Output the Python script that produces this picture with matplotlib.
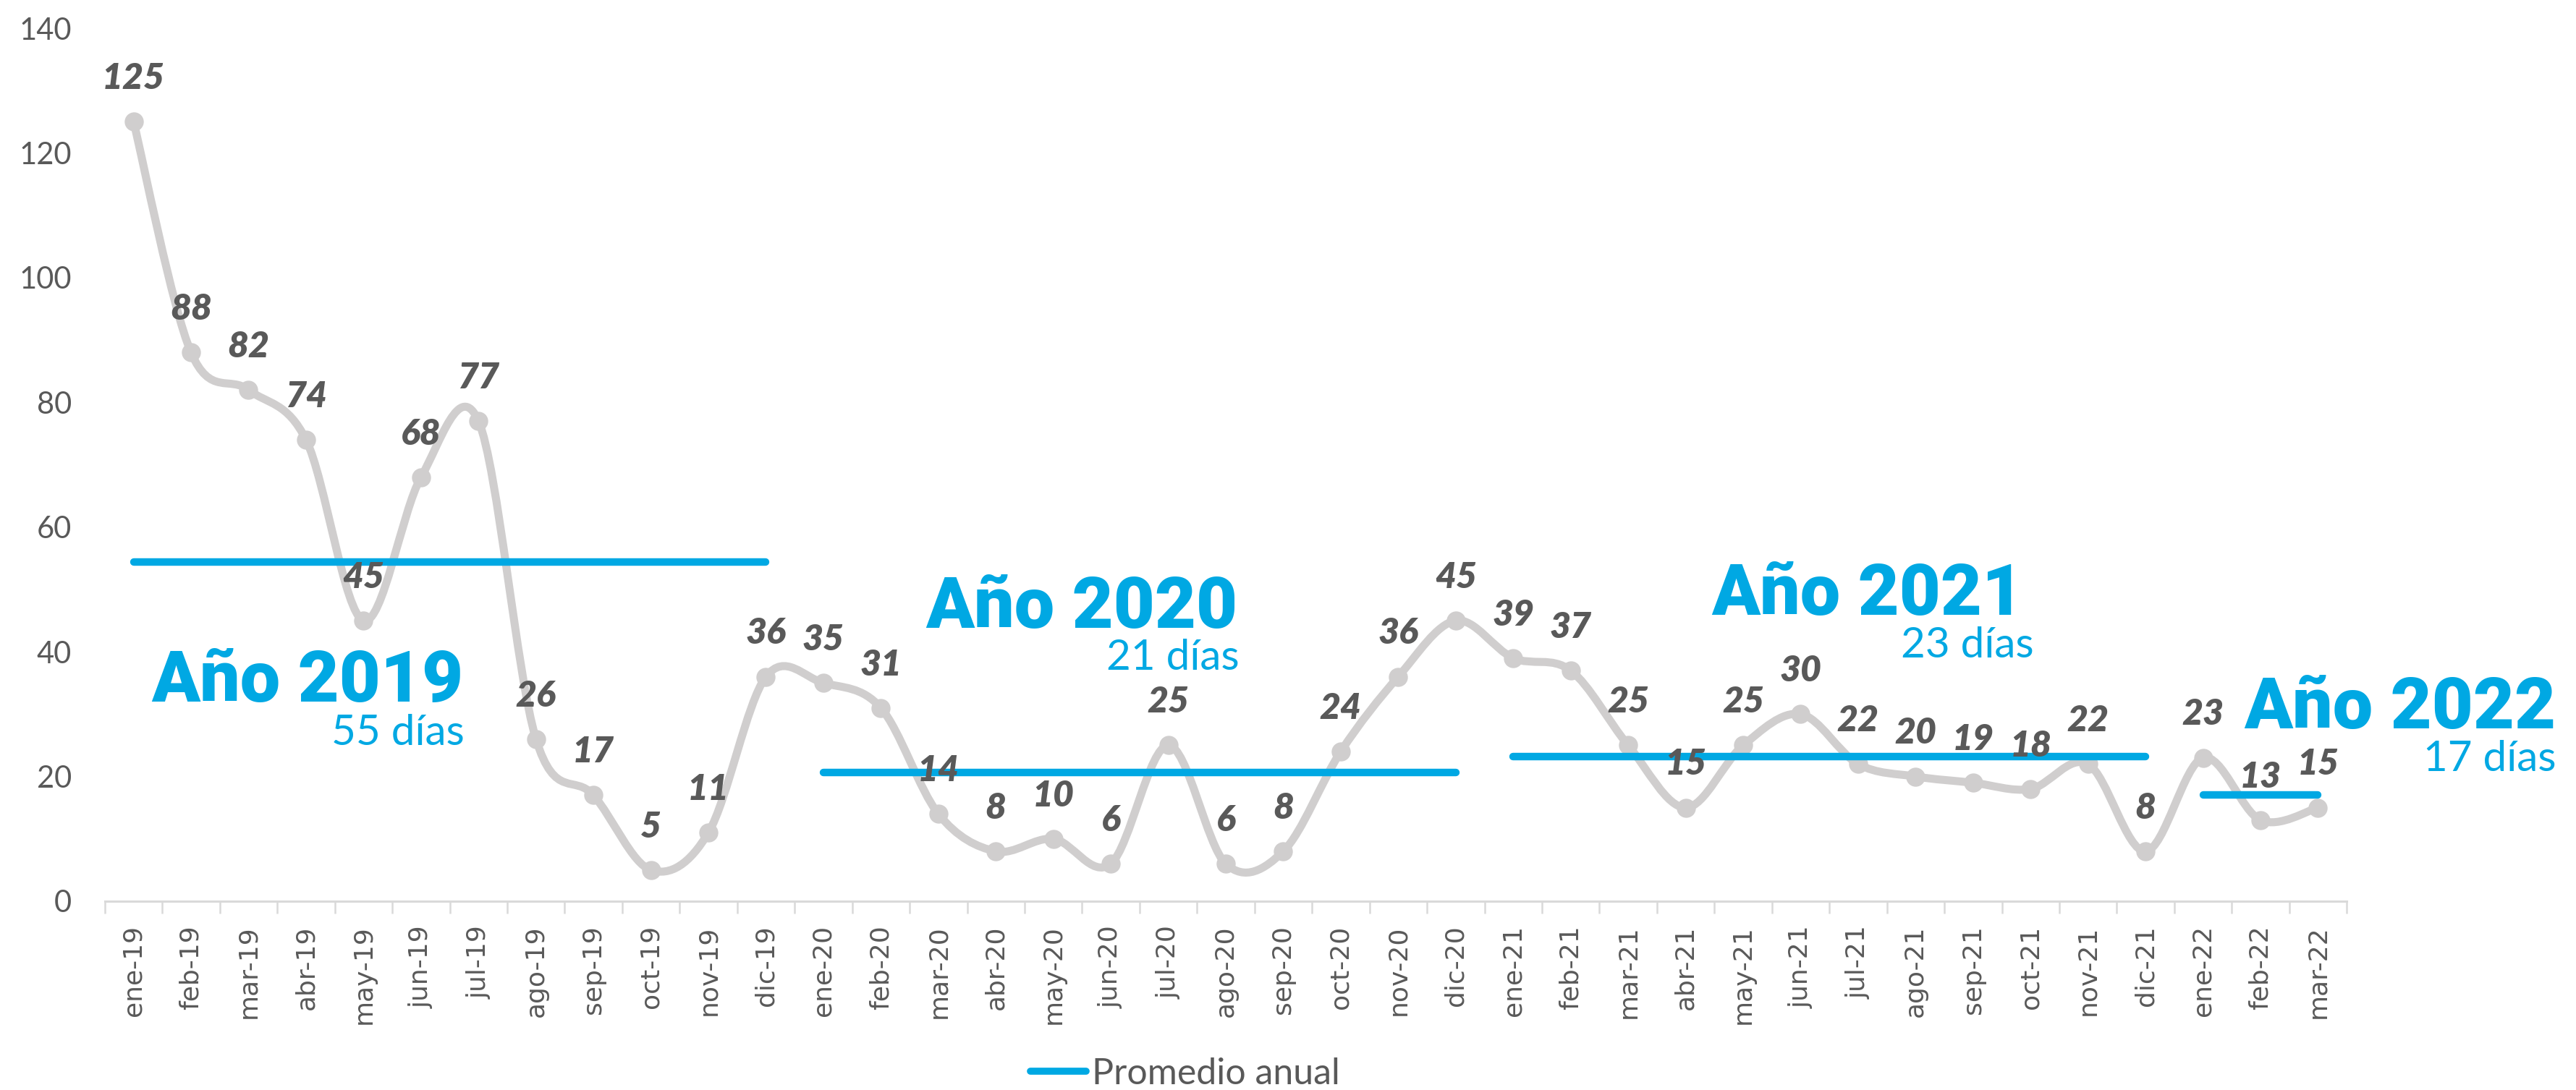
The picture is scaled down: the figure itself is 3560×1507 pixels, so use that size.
import numpy as np
import matplotlib
matplotlib.use("Agg")
import matplotlib.pyplot as plt
from matplotlib.path import Path
from matplotlib.patches import PathPatch
from matplotlib.lines import Line2D

# ---------------- data ----------------
months = ["ene-19", "feb-19", "mar-19", "abr-19", "may-19", "jun-19", "jul-19", "ago-19",
          "sep-19", "oct-19", "nov-19", "dic-19",
          "ene-20", "feb-20", "mar-20", "abr-20", "may-20", "jun-20", "jul-20", "ago-20",
          "sep-20", "oct-20", "nov-20", "dic-20",
          "ene-21", "feb-21", "mar-21", "abr-21", "may-21", "jun-21", "jul-21", "ago-21",
          "sep-21", "oct-21", "nov-21", "dic-21",
          "ene-22", "feb-22", "mar-22"]
values = [125, 88, 82, 74, 45, 68, 77, 26, 17, 5, 11, 36,
          35, 31, 14, 8, 10, 6, 25, 6, 8, 24, 36, 45,
          39, 37, 25, 15, 25, 30, 22, 20, 19, 18, 22, 8,
          23, 13, 15]
year_suffix = ["19", "20", "21", "22"]
year_titles = ["Año 2019", "Año 2020", "Año 2021", "Año 2022"]
year_days = ["55 días", "21 días", "23 días", "17 días"]
year_avg = [54.4, 20.6, 23.2, 17.0]
y_ticks = [0, 20, 40, 60, 80, 100, 120, 140]
legend_label = "Promedio anual"

# text anchor positions (data coords) for the year annotations
title_pos = [(5.74, 32.0), (19.21, 43.8), (32.88, 45.9), (42.14, 27.7)]
days_pos = [(5.76, 25.1), (19.24, 37.1), (33.06, 39.1), (42.14, 20.9)]

# ---------------- style ----------------
BLUE = "#00A8E3"
GREY_LINE = "#D0CECE"
TXT = "#595959"
AXIS = "#D9D9D9"

fig = plt.figure(figsize=(35.6, 15.07), dpi=100)
ax = fig.add_axes([0.0407, 0.1732, 0.8703, 0.8009])

x = np.arange(len(values))
y = np.array(values, dtype=float)

# smooth (Excel-like) curve via cubic Bezier segments (Catmull-Rom control points)
pts = np.column_stack([x, y])
ext = np.vstack([pts[0], pts, pts[-1]])
verts = [tuple(pts[0])]
codes = [Path.MOVETO]
for i in range(len(pts) - 1):
    p0, p1, p2, p3 = ext[i], ext[i + 1], ext[i + 2], ext[i + 3]
    c1 = p1 + (p2 - p0) / 6.0
    c2 = p2 - (p3 - p1) / 6.0
    verts += [tuple(c1), tuple(c2), tuple(p2)]
    codes += [Path.CURVE4, Path.CURVE4, Path.CURVE4]
curve = PathPatch(Path(verts, codes), facecolor="none", edgecolor=GREY_LINE,
                  lw=8, capstyle="round", joinstyle="round", zorder=2)
ax.add_patch(curve)
ax.plot(x, y, linestyle="none", marker="o", ms=18, color=GREY_LINE, zorder=3)

# data labels
for xi, v in zip(x, values):
    ax.annotate(f"{v}", (xi, v), xytext=(0, 43), textcoords="offset points",
                ha="center", va="center", fontsize=36, fontweight="heavy",
                fontstyle="italic", family="Lato", color=TXT, zorder=5)

# yearly averages
for k, suf in enumerate(year_suffix):
    idx = [i for i, m in enumerate(months) if m.endswith(suf)]
    ax.plot([idx[0], idx[-1]], [year_avg[k], year_avg[k]], color=BLUE, lw=7.5,
            solid_capstyle="round", zorder=4)
    ax.text(title_pos[k][0], title_pos[k][1], year_titles[k], ha="right", va="baseline",
            fontsize=71, fontweight=900, family="Roboto", color=BLUE,
            clip_on=False, zorder=6)
    ax.text(days_pos[k][0], days_pos[k][1], year_days[k], ha="right", va="baseline",
            fontsize=42, family="Lato", color=BLUE, clip_on=False, zorder=6)

# axes
ax.set_xlim(-0.5, len(values) - 0.5)
ax.set_ylim(0, 140)
ax.set_yticks(y_ticks)
ax.set_yticklabels([str(t) for t in y_ticks], family="Lato", fontsize=30, color=TXT)
ax.tick_params(axis="y", length=0, pad=33)
ax.set_xticks(x)
ax.set_xticklabels(months, rotation=90, family="DejaVu Sans", fontsize=26, color=TXT)
ax.tick_params(axis="x", which="major", length=0, pad=24)
ax.set_xticks(np.arange(-0.5, len(values), 1.0), minor=True)
ax.tick_params(axis="x", which="minor", length=12, width=1.8, color=AXIS, direction="out")
for s in ["top", "right", "left"]:
    ax.spines[s].set_visible(False)
ax.spines["bottom"].set_color(AXIS)
ax.spines["bottom"].set_linewidth(2.2)
ax.grid(False)

handle = Line2D([0], [0], color=BLUE, lw=7, solid_capstyle="round")
leg = fig.legend([handle], [legend_label], loc="center", bbox_to_anchor=(0.46, 0.0146),
                 frameon=False, handlelength=1.55, handletextpad=0.15,
                 prop={"family": "Lato", "size": 36})
for t in leg.get_texts():
    t.set_color(TXT)

fig.savefig("out.png", dpi=100)
